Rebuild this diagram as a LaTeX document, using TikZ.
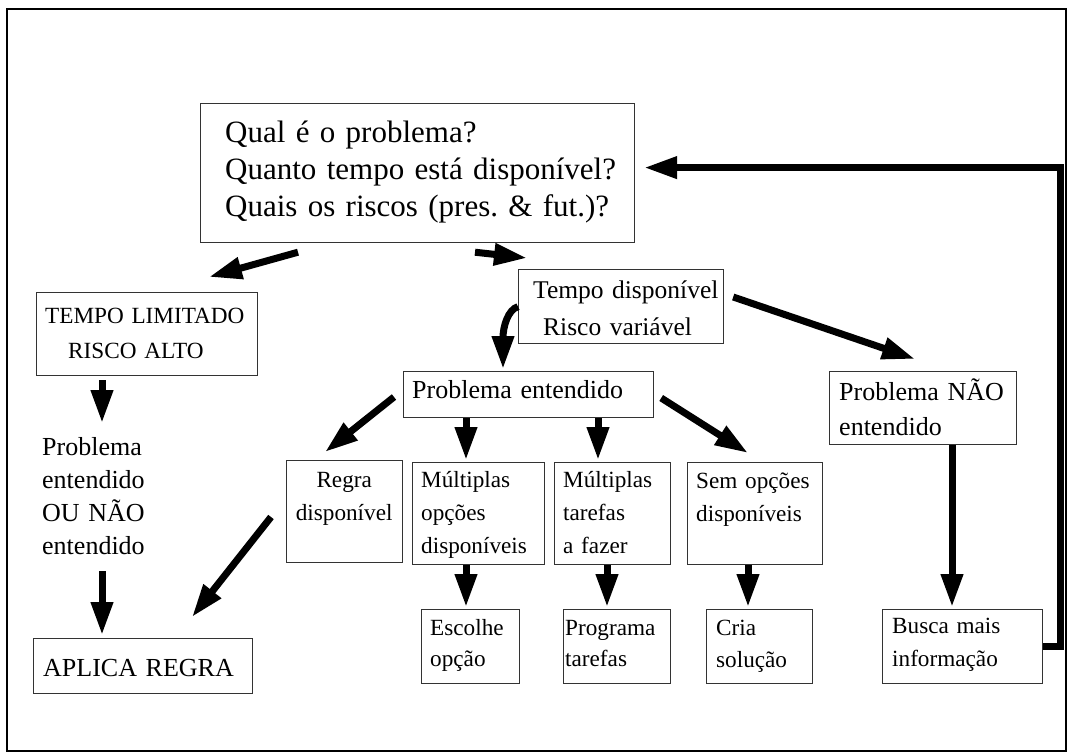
\documentclass[tikz,border=0pt]{standalone}
\usepackage{fontspec}
\setmainfont{Liberation Serif}
\usetikzlibrary{arrows.meta}
\frenchspacing
\begin{document}
\begin{tikzpicture}[x=1pt,y=-1pt,
  box/.style={draw=black!80, line width=1.2pt, inner sep=0pt, anchor=north west},
  txt/.style={anchor=base west, inner sep=0pt, align=left, text width=#1},
  txt/.default=250pt,
  ctxt/.style={anchor=base west, inner sep=0pt, align=center, text width=#1},
  fbig/.style={font=\fontsize{31}{37}\selectfont},
  fmid/.style={font=\fontsize{26}{33}\selectfont},
  fsml/.style={font=\fontsize{23.2}{33}\selectfont},
  arr/.style={line width=7pt, -{Triangle[length=33pt,width=21pt]}},
]
\useasboundingbox (0,0) rectangle (1071,752);
% outer frame
\draw[line width=2.5pt] (7,9) rectangle (1066,751);

% main question box
\node[box, minimum width=434pt, minimum height=139pt] (q) at (200,103) {};
\node[txt=420pt, fbig] (q-t) at (225,142)
  {Qual é o problema?\\ Quanto tempo está disponível?\\ Quais os riscos (pres. \& fut.)?};

% left branch
\node[box, minimum width=221pt, minimum height=83pt] (tl) at (36,292) {};
\node[txt=215pt, font=\fontsize{23.2}{35}\selectfont] (tl-t) at (45,323) {TEMPO LIMITADO\\\hspace*{23pt}RISCO ALTO};
\node[txt=200pt, fmid] (ls) at (42,455) {Problema\\ entendido\\ OU NÃO\\ entendido};
\node[box, minimum width=219pt, minimum height=55pt] (ap) at (33,638) {};
\node[txt=210pt, fmid] (ap-t) at (43,676) {APLICA REGRA};

% middle branch
\node[box, minimum width=205pt, minimum height=74pt] (td) at (518,269) {};
\node[txt=200pt, font=\fontsize{25.5}{37}\selectfont] (td-t) at (533,298)
  {Tempo disponível\\\hspace*{10pt}Risco variável};
\node[box, minimum width=250pt, minimum height=46pt] (pe) at (403,371) {};
\node[txt=240pt, fmid] (pe-t) at (412,398) {Problema entendido};

\node[box, minimum width=116pt, minimum height=102pt] (rg) at (286,460) {};
\node[ctxt=116pt, fsml] (rg-t) at (286,487) {Regra\\ disponível};
\node[box, minimum width=132pt, minimum height=102pt] (mo) at (412,462) {};
\node[txt=130pt, fsml] (mo-t) at (421,487) {Múltiplas\\ opções\\ disponíveis};
\node[box, minimum width=116pt, minimum height=102pt] (mt) at (554,462) {};
\node[txt=110pt, fsml] (mt-t) at (563,487) {Múltiplas\\ tarefas\\ a fazer};
\node[box, minimum width=135pt, minimum height=102pt] (so) at (687,462) {};
\node[txt=130pt, fsml] (so-t) at (696,488) {Sem opções\\ disponíveis};

\node[box, minimum width=98pt, minimum height=74pt] (eo) at (421,609) {};
\node[txt=95pt, fsml, font=\fontsize{23.2}{31}\selectfont] (eo-t) at (430,635) {Escolhe\\ opção};
\node[box, minimum width=107pt, minimum height=74pt] (pt) at (563,609) {};
\node[txt=105pt, font=\fontsize{23.2}{31}\selectfont] (pt-t) at (565,635) {Programa\\ tarefas};
\node[box, minimum width=106pt, minimum height=74pt] (cs) at (706,609) {};
\node[txt=100pt, font=\fontsize{23.2}{32}\selectfont] (cs-t) at (716,635) {Cria\\ solução};

% right branch
\node[box, minimum width=187pt, minimum height=73pt] (pn) at (829,371) {};
\node[txt=185pt, font=\fontsize{26}{35}\selectfont] (pn-t) at (839,400) {Problema NÃO\\ entendido};
\node[box, minimum width=160pt, minimum height=74pt] (bm) at (882,609) {};
\node[txt=155pt, font=\fontsize{23.2}{33}\selectfont] (bm-t) at (892,633) {Busca mais\\ informação};

% connectors
\draw[arr] ([shift={(98,9)}]q.south west) -- ([shift={(173,-15)}]tl.north west);
\draw[arr] ([shift={(275,9)}]q.south west) -- ([shift={(9,-11)}]td.north west);
\draw[arr] (td.west) .. controls ([shift={(-10,3)}]td.west) and ([shift={(-15,20)}]td.west)
  .. ([shift={(100,-2)}]pe.north west);
\draw[arr] ([shift={(9,28)}]td.north east) -- ([shift={(86,-12)}]pn.north west);

\draw[arr] ([shift={(66,4)}]tl.south west) -- ([shift={(60,-32)}]ls.base west);
\draw[arr] ([shift={(60,116)}]ls.base west) -- ([shift={(69,-3)}]ap.north west);

\draw[arr] ([shift={(-9,26)}]pe.north west) -- ([shift={(39,-8)}]rg.north west);
\draw[arr] ([shift={(-15,57)}]rg.north west) -- ([shift={(159,-21)}]ap.north west);
\draw[arr] ([shift={(63,0)}]pe.south west) -- ([shift={(54,-2)}]mo.north west);
\draw[arr] ([shift={(195,0)}]pe.south west) -- ([shift={(44,-2)}]mt.north west);
\draw[arr] ([shift={(7,27)}]pe.north east) -- ([shift={(61,-9)}]so.north west);

\draw[arr] ([shift={(54,0)}]mo.south west) -- ([shift={(45,-2)}]eo.north west);
\draw[arr] ([shift={(53,0)}]mt.south west) -- ([shift={(44,-2)}]pt.north west);
\draw[arr] ([shift={(61,0)}]so.south west) -- ([shift={(42,-2)}]cs.north west);

\draw[arr] ([shift={(123,0)}]pn.south west) -- ([shift={(70,-2)}]bm.north west);
\draw[arr, line join=miter] (bm.east) -- ++(17,0) |- ([shift={(9,-5.5)}]q.east);
\end{tikzpicture}
\end{document}
